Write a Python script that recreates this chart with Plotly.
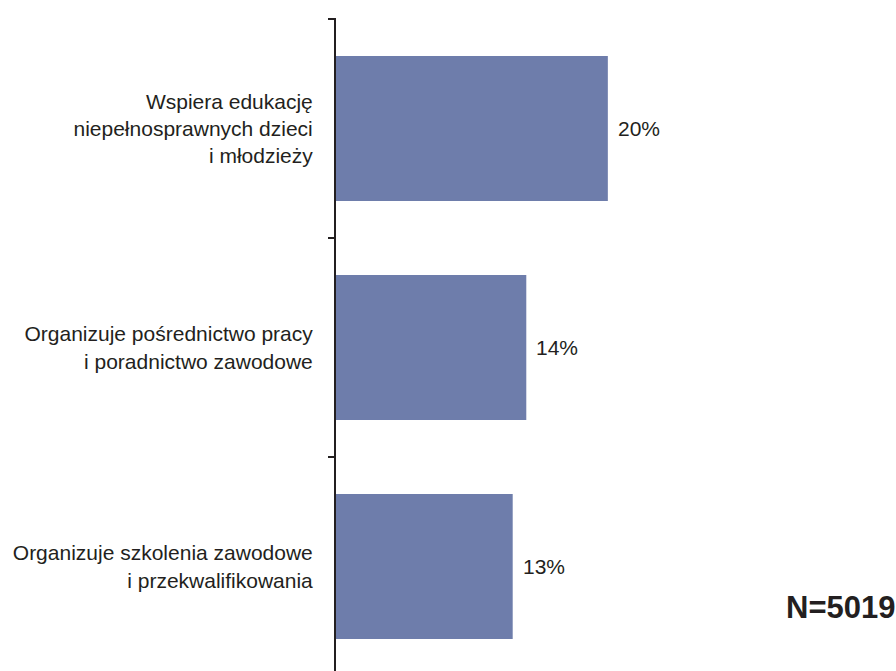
import plotly.graph_objects as go

# categories listed bottom to top
categories = [
    "Organizuje szkolenia zawodowe<br>i przekwalifikowania",
    "Organizuje pośrednictwo pracy<br>i poradnictwo zawodowe",
    "Wspiera edukację<br>niepełnosprawnych dzieci<br>i młodzieży",
]
values = [13, 14, 20]
sample_note = "N=5019"

bar_color = "#6E7DAB"
text_color = "#231F20"
font_family = "Liberation Sans, Arial"

fig = go.Figure()
fig.add_trace(go.Bar(
    y=categories, x=values, orientation='h',
    marker=dict(color=bar_color, line=dict(width=0)),
    width=0.662,
))

# value labels just right of each bar
annotations = [dict(
    x=v, y=c, xref='x', yref='y', text=f"{v}%", showarrow=False,
    xanchor='left', yanchor='middle', xshift=8,
    font=dict(size=21, color=text_color, family=font_family),
) for c, v in zip(categories, values)]

annotations.append(dict(
    text=f"<b>{sample_note}</b>", xref='paper', yref='paper',
    x=1, y=0.098, xanchor='right', yanchor='middle', showarrow=False,
    xshift=1,
    font=dict(size=31, color=text_color, family=font_family),
))

fig.update_layout(
    width=896, height=671,
    margin=dict(l=336, r=0, t=18, b=0),
    plot_bgcolor='white', paper_bgcolor='white',
    showlegend=False,
    font=dict(family=font_family, size=21, color=text_color),
    xaxis=dict(range=[0, 41.2], visible=False, showgrid=False, zeroline=False),
    yaxis=dict(
        type='category', range=[-0.477, 2.505],
        showline=True, linewidth=2, linecolor='#231F20',
        ticks='outside', ticklen=6, tickwidth=2, tickcolor='#231F20',
        tickson='boundaries', ticklabelstandoff=17,
        showgrid=False, zeroline=False,
        tickfont=dict(size=21, color=text_color),
    ),
    annotations=annotations,
)

# drop the default page margin so the figure fills the window
fig.write_html("out.html", config={'displayModeBar': False},
               post_script="document.body.style.margin='0';")
